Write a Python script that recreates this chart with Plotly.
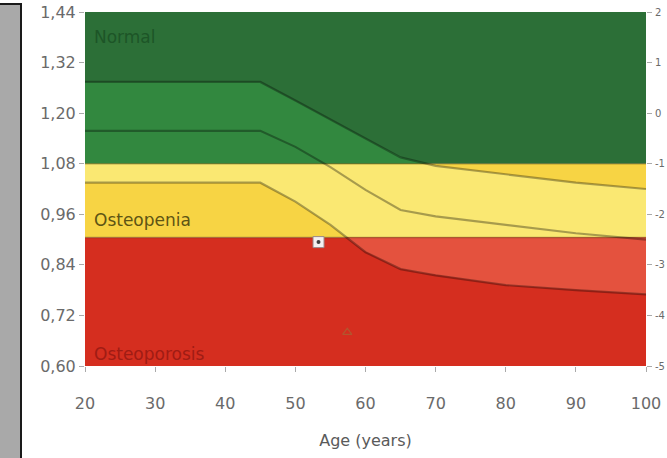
import numpy as np
import plotly.graph_objects as go

# ---------------- data ----------------
ages = [20, 45, 50, 55, 60, 65, 70, 80, 90, 100]
upper_sd = [1.274, 1.274, 1.230, 1.185, 1.140, 1.095, 1.075, 1.055, 1.035, 1.020]
mean_curve = [1.158, 1.158, 1.120, 1.072, 1.018, 0.970, 0.955, 0.935, 0.915, 0.900]
lower_sd = [1.035, 1.035, 0.990, 0.935, 0.870, 0.830, 0.815, 0.792, 0.780, 0.770]

zone_names = ["Normal", "Osteopenia", "Osteoporosis"]
zone_low = [1.08, 0.905, 0.60]
zone_high = [1.44, 1.08, 0.905]
zone_dark = ["#2c6f37", "#f7d444", "#d52e1f"]
zone_light = ["#32883f", "#fae872", "#e4523e"]
zone_text_col = ["#1d5527", "#5e5414", "#a01c14"]
zone_label_age = [21.0, 21.0, 21.0]
zone_label_bmd = [1.380, 0.947, 0.628]

patient_age = [53.3]
patient_bmd = [0.894]
faint_age = [57.4]
faint_bmd = [0.680]

x_ticks = [20, 30, 40, 50, 60, 70, 80, 90, 100]
x_tick_labels = ["20", "30", "40", "50", "60", "70", "80", "90", "100"]
y_ticks = [0.60, 0.72, 0.84, 0.96, 1.08, 1.20, 1.32, 1.44]
y_tick_labels = ["0,60", "0,72", "0,84", "0,96", "1,08", "1,20", "1,32", "1,44"]
t_tick_labels = ["-5", "-4", "-3", "-2", "-1", "0", "1", "2"]

# ---------------- figure ----------------
fig = go.Figure()
grid = np.linspace(ages[0], ages[-1], 321)
up_g = np.interp(grid, ages, upper_sd)
lo_g = np.interp(grid, ages, lower_sd)

for name, lo, hi, dk, lt in zip(zone_names, zone_low, zone_high, zone_dark, zone_light):
    fig.add_trace(go.Scatter(
        x=[ages[0], ages[-1], ages[-1], ages[0], ages[0]],
        y=[lo, lo, hi, hi, lo], mode="lines", fill="toself",
        fillcolor=dk, line=dict(width=0), hoverinfo="skip", showlegend=False))
    top = np.clip(up_g, lo, hi)
    bot = np.clip(lo_g, lo, hi)
    fig.add_trace(go.Scatter(
        x=list(grid) + list(grid[::-1]),
        y=list(top) + list(bot[::-1]), mode="lines", fill="toself",
        fillcolor=lt, line=dict(width=0), hoverinfo="skip", showlegend=False))

# zone boundary lines
for b in zone_low[:2]:
    fig.add_trace(go.Scatter(x=[ages[0], ages[-1]], y=[b, b], mode="lines",
                             line=dict(color="rgba(60,50,0,0.35)", width=1.6),
                             hoverinfo="skip", showlegend=False))

# reference curves
for curve in (upper_sd, mean_curve, lower_sd):
    fig.add_trace(go.Scatter(x=ages, y=curve, mode="lines",
                             line=dict(color="rgba(0,0,0,0.33)", width=2.2),
                             hoverinfo="skip", showlegend=False))

# measurements
fig.add_trace(go.Scatter(x=faint_age, y=faint_bmd, mode="markers",
                         marker=dict(symbol="triangle-up-open", size=8,
                                     color="rgba(150,120,60,0.55)", line=dict(width=1.2)),
                         hoverinfo="skip", showlegend=False))
fig.add_trace(go.Scatter(x=patient_age, y=patient_bmd, mode="markers",
                         marker=dict(symbol="square", size=11, color="#f4f0f0",
                                     line=dict(color="#9a8a8a", width=1)),
                         hoverinfo="skip", showlegend=False))
fig.add_trace(go.Scatter(x=patient_age, y=patient_bmd, mode="markers",
                         marker=dict(symbol="circle", size=4, color="#404040"),
                         hoverinfo="skip", showlegend=False))

# invisible trace for right axis
fig.add_trace(go.Scatter(x=[ages[0]], y=[y_ticks[0]], yaxis="y2", mode="markers",
                         marker=dict(opacity=0), hoverinfo="skip", showlegend=False))

for name, ax, ay, col in zip(zone_names, zone_label_age, zone_label_bmd, zone_text_col):
    fig.add_annotation(x=ax, y=ay, text=name, showarrow=False, xanchor="left",
                       yanchor="middle",
                       font=dict(family="DejaVu Sans", size=17, color=col))

font_tick = dict(family="DejaVu Sans", size=16, color="#6a6a6a")
fig.update_layout(
    width=667, height=458,
    margin=dict(l=85, r=21, t=12, b=92, autoexpand=False),
    paper_bgcolor="white", plot_bgcolor="white",
    xaxis=dict(range=[20, 100], tickvals=x_ticks, ticktext=x_tick_labels,
               ticks="outside", ticklen=5, tickcolor="#aaaaaa", showgrid=False,
               zeroline=False, tickfont=font_tick, ticklabelstandoff=18,
               automargin=False,
               title=dict(text="Age (years)", font=dict(family="DejaVu Sans", size=16,
                                                        color="#5a5a5a"), standoff=22)),
    yaxis=dict(range=[0.60, 1.44], tickvals=y_ticks, ticktext=y_tick_labels,
               ticks="outside", ticklen=5, tickcolor="#aaaaaa", showgrid=False,
               zeroline=False, tickfont=font_tick, automargin=False),
    yaxis2=dict(range=[0.60, 1.44], tickvals=y_ticks, ticktext=t_tick_labels,
                overlaying="y", side="right", ticks="outside", ticklen=5,
                tickcolor="#aaaaaa", showgrid=False, zeroline=False,
                tickfont=dict(family="DejaVu Sans", size=10, color="#6a6a6a"),
                ticklabelstandoff=1, automargin=False),
)

# left neighbouring grey panel
fig.add_shape(type="rect", xref="paper", yref="paper",
              x0=-0.20, x1=(21 - 85) / 561, y0=-0.4, y1=(366 - 4) / 354,
              fillcolor="#a9a9a9", line=dict(color="#1a1a1a", width=2), layer="above")

fig.write_html("out.html", config={"displayModeBar": False},
               post_script="document.body.style.margin='0';document.body.style.overflow='hidden';")
